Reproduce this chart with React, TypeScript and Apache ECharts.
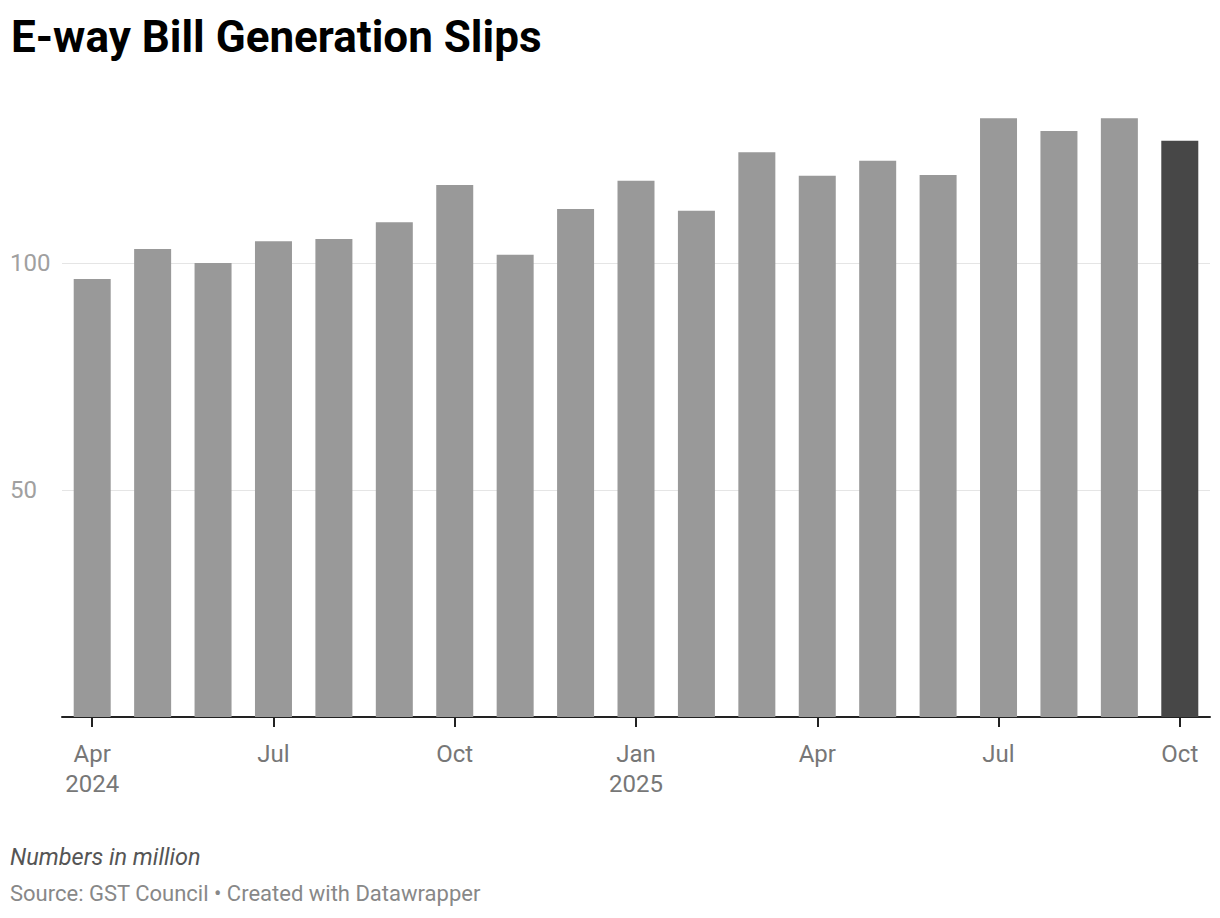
import React, { useEffect, useRef } from "react";
import * as echarts from "echarts";

const categories = [
  "Apr 2024", "May 2024", "Jun 2024", "Jul 2024", "Aug 2024", "Sep 2024",
  "Oct 2024", "Nov 2024", "Dec 2024", "Jan 2025", "Feb 2025", "Mar 2025",
  "Apr 2025", "May 2025", "Jun 2025", "Jul 2025", "Aug 2025", "Sep 2025", "Oct 2025",
];
const values = [
  96.5, 103.1, 100.0, 104.8, 105.3, 109.0, 117.2, 101.8, 111.9, 118.1,
  111.5, 124.4, 119.2, 122.5, 119.4, 131.9, 129.1, 131.9, 126.9,
];
const tickLabels: Record<number, string> = {
  0: "Apr\n2024", 3: "Jul", 6: "Oct", 9: "Jan\n2025", 12: "Apr", 15: "Jul", 18: "Oct",
};
const yTicks = [50, 100];

export default function App() {
  const ref = useRef<HTMLDivElement>(null);
  useEffect(() => {
    document.body.style.margin = "0";
    const chart = echarts.init(ref.current!, null, { renderer: "svg" });
    const last = values.length - 1;
    chart.setOption({
      animation: false,
      backgroundColor: "#ffffff",
      textStyle: { fontFamily: "Roboto" },
      title: {
        text: "E-way Bill Generation Slips",
        left: 6,
        top: 10,
        textStyle: { fontFamily: "Roboto", fontWeight: "bold", fontSize: 44, color: "#000" },
      },
      graphic: [
        {
          type: "text", left: 10, top: 845,
          style: { text: "Numbers in million", fontFamily: "Roboto", fontStyle: "italic", fontSize: 23.5, fill: "#555" },
        },
        {
          type: "text", left: 10, top: 882,
          style: { text: "Source: GST Council • Created with Datawrapper", fontFamily: "Roboto", fontSize: 22, fill: "#888" },
        },
      ],
      grid: { left: 62, right: 10, top: 36, bottom: 201 },
      xAxis: {
        type: "category",
        data: categories,
        axisLine: { lineStyle: { color: "#222", width: 2 } },
        axisTick: { show: true, alignWithLabel: true, interval: 2, length: 10, lineStyle: { color: "#222", width: 2 } },
        axisLabel: {
          interval: 2,
          margin: 22,
          fontSize: 24,
          lineHeight: 30,
          color: "#777",
          fontFamily: "Roboto",
          formatter: (_v: string, i: number) => tickLabels[i] ?? "",
        },
      },
      yAxis: {
        type: "value",
        min: 0,
        max: 150,
        interval: 50,
        axisLine: { show: false },
        axisTick: { show: false },
        splitLine: { lineStyle: { color: ["transparent", "#e5e5e5", "#e5e5e5", "transparent"], width: 1 } },
        axisLabel: {
          align: "left",
          margin: 52,
          fontSize: 24,
          color: "#a0a0a0",
          fontFamily: "Roboto",
          formatter: (v: number) => (yTicks.includes(v) ? String(v) : ""),
        },
      },
      series: [
        {
          type: "bar",
          barWidth: 37,
          data: values.map((v, i) => (i === last ? { value: v, itemStyle: { color: "#474747" } } : v)),
          itemStyle: { color: "#999999" },
        },
      ],
    });
    return () => chart.dispose();
  }, []);
  return <div ref={ref} style={{ width: 1220, height: 918 }} />;
}
